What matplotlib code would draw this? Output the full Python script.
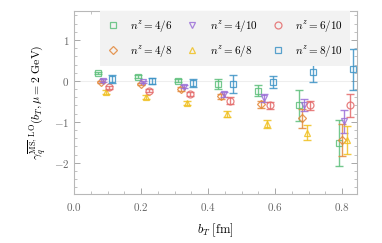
import numpy as np
import matplotlib
matplotlib.use("Agg")
import matplotlib.pyplot as plt
from matplotlib.ticker import MultipleLocator, FuncFormatter

plt.rcParams['mathtext.fontset'] = 'cm'
plt.rcParams['font.family'] = ['DejaVu Serif']

bT_base = [0.07, 0.19, 0.31, 0.43, 0.55, 0.67, 0.79]
labels = ["4/6", "4/8", "4/10", "6/8", "6/10", "8/10"]
offsets = [0.0, 0.009, 0.017, 0.026, 0.035, 0.044]

y_46 = [0.19, 0.105, 0.01, -0.07, -0.24, -0.60, -1.52]
e_46 = [0.03, 0.03, 0.03, 0.12, 0.14, 0.38, 0.56]
y_48 = [-0.02, -0.07, -0.20, -0.38, -0.57, -0.91, -1.44]
e_48 = [0.03, 0.03, 0.04, 0.06, 0.09, 0.23, 0.39]
y_410 = [0.01, -0.03, -0.14, -0.33, -0.42, -0.59, -0.99]
e_410 = [0.03, 0.03, 0.04, 0.06, 0.10, 0.14, 0.28]
y_68 = [-0.28, -0.40, -0.54, -0.81, -1.05, -1.26, -1.44]
e_68 = [0.05, 0.05, 0.06, 0.08, 0.10, 0.19, 0.35]
y_610 = [-0.16, -0.24, -0.33, -0.48, -0.60, -0.60, -0.60]
e_610 = [0.04, 0.04, 0.05, 0.08, 0.08, 0.11, 0.28]
y_810 = [0.05, 0.0, -0.06, -0.08, -0.02, 0.21, 0.29]
e_810 = [0.10, 0.08, 0.10, 0.22, 0.15, 0.24, 0.50]

series = [
    (y_46, e_46, 's', '#5cbf7a'),
    (y_48, e_48, 'D', '#e3883a'),
    (y_410, e_410, 'v', '#9b6fd8'),
    (y_68, e_68, '^', '#f0c020'),
    (y_610, e_610, 'o', '#e46a6a'),
    (y_810, e_810, 's', '#3d93c6'),
]

fig = plt.figure(figsize=(3.82, 2.43), dpi=100)
ax = fig.add_axes([0.194, 0.202, 0.741, 0.753])

ax.axhline(0, color='#eeeeee', lw=0.8, zorder=0)

handles = []
for (y, e, m, c), lab, off in zip(series, labels, offsets):
    x = np.array(bT_base) + off
    ax.errorbar(x, y, yerr=e, fmt='none', ecolor=c, elinewidth=1.0, capsize=3, capthick=1.0, alpha=0.85)
    ms = 5 if m != 'D' else 4.2
    h, = ax.plot(x, y, linestyle='none', marker=m, ms=ms, mfc='none', mec=c, mew=0.9, alpha=0.85,
                 label=r'$n^z = %s$' % lab)
    handles.append(h)

leg = ax.legend(handles=handles, ncol=3, loc='upper left', bbox_to_anchor=(0.092, 1.0),
                frameon=True, fancybox=False, facecolor='#f2f2f2', edgecolor='none', framealpha=1,
                fontsize=8, borderaxespad=0, handlelength=1.0, handletextpad=1.05,
                columnspacing=1.3, labelspacing=0.8, borderpad=0.62)

ax.set_xlim(0.0, 0.845)
ax.set_ylim(-2.76, 1.71)
ax.xaxis.set_major_locator(MultipleLocator(0.2))
ax.xaxis.set_minor_locator(MultipleLocator(0.05))
ax.yaxis.set_major_locator(MultipleLocator(1))
ax.yaxis.set_minor_locator(MultipleLocator(0.2))
ax.xaxis.set_major_formatter(FuncFormatter(lambda v, p: r'$%.1f$' % v))
ax.yaxis.set_major_formatter(FuncFormatter(lambda v, p: r'$%d$' % round(v) if abs(v) > 1e-9 else r'$0$'))
ax.tick_params(which='both', direction='in', top=True, right=True, color='#a8a8a8',
               labelcolor='#666666', labelsize=8)
ax.tick_params(which='major', length=4, width=0.7)
ax.tick_params(which='minor', length=2, width=0.5)
ax.tick_params(axis='x', pad=5)
for s in ax.spines.values():
    s.set_color('#b8b8b8')
    s.set_linewidth(0.8)

ax.set_xlabel(r'$b_T\ [{\rm fm}]$', fontsize=9, labelpad=6)
ax.set_ylabel(r'$\gamma_q^{\overline{\rm MS},\,{\rm LO}}(b_T, \mu = 2\ {\rm GeV})$', fontsize=8.5, labelpad=4)

fig.savefig('out.png', dpi=100)
